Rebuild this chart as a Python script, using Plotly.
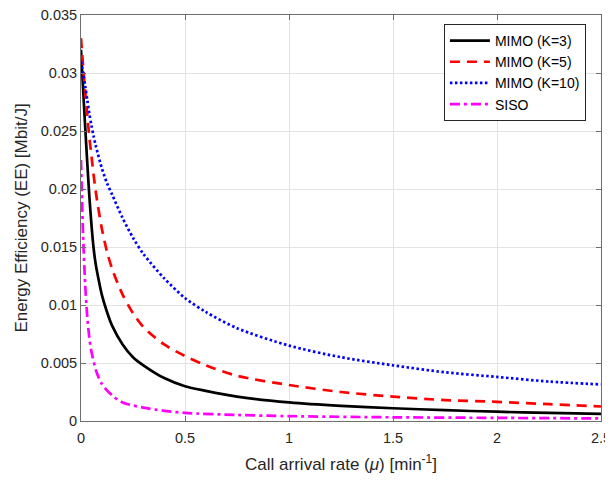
import plotly.graph_objects as go

# Readings from the reference chart
mu_mimo = [0, 0.01, 0.02, 0.03, 0.04, 0.05, 0.06, 0.07, 0.08, 0.1, 0.125, 0.15, 0.2, 0.25,
           0.3, 0.4, 0.5, 0.6, 0.75, 1.0, 1.25, 1.5, 1.75, 2.0, 2.25, 2.5]
ee_k3 = [0.0320, 0.0287, 0.0254, 0.0223, 0.0194, 0.0170, 0.0150, 0.0136, 0.0126, 0.0109,
         0.0094, 0.0082, 0.0066, 0.0055, 0.0048, 0.0037, 0.0030, 0.0026, 0.0021, 0.0016,
         0.0013, 0.0011, 0.00093, 0.0008, 0.0007, 0.00062]
ee_k5 = [0.0330, 0.0306, 0.0284, 0.0264, 0.0245, 0.0229, 0.0213, 0.0199, 0.0187, 0.0166,
         0.0146, 0.0131, 0.0109, 0.0093, 0.0081, 0.0066, 0.0056, 0.0048, 0.0039, 0.0031,
         0.0025, 0.0021, 0.0018, 0.00165, 0.00145, 0.00125]
ee_k10 = [0.0310, 0.0300, 0.0289, 0.0277, 0.0265, 0.0255, 0.0246, 0.0238, 0.0231, 0.0218,
          0.0205, 0.0195, 0.0175, 0.0158, 0.0144, 0.0123, 0.0106, 0.0094, 0.0080, 0.0065,
          0.0055, 0.0048, 0.0042, 0.0038, 0.0034, 0.00315]
mu_siso = [0, 0.005, 0.01, 0.02, 0.03, 0.04, 0.05, 0.075, 0.1, 0.15, 0.2, 0.3, 0.4, 0.5,
           0.75, 1.0, 1.5, 2.0, 2.5]
ee_siso = [0.0225, 0.0190, 0.0160, 0.0118, 0.0090, 0.0072, 0.0060, 0.0042, 0.0032, 0.0022,
           0.0016, 0.00115, 0.00088, 0.0007, 0.00052, 0.00042, 0.00032, 0.00027, 0.00022]

x_ticks = [0, 0.5, 1, 1.5, 2, 2.5]
x_tick_text = ["0", "0.5", "1", "1.5", "2", "2.5"]
y_ticks = [0, 0.005, 0.01, 0.015, 0.02, 0.025, 0.03, 0.035]
y_tick_text = ["0", "0.005", "0.01", "0.015", "0.02", "0.025", "0.03", "0.035"]

FONT = "Liberation Sans, Arial, sans-serif"

fig = go.Figure()
fig.add_trace(go.Scatter(x=mu_mimo, y=ee_k3, mode="lines", name="MIMO (K=3)",
                         line=dict(color="black", width=2.7, shape="spline", smoothing=0.8)))
fig.add_trace(go.Scatter(x=mu_mimo, y=ee_k5, mode="lines", name="MIMO (K=5)",
                         line=dict(color="#ff0000", width=2.7, dash="10px,7px", shape="spline", smoothing=0.8)))
fig.add_trace(go.Scatter(x=mu_mimo, y=ee_k10, mode="lines", name="MIMO (K=10)",
                         line=dict(color="#0000ff", width=2.7, dash="2.5px,2.5px", shape="spline", smoothing=0.8)))
fig.add_trace(go.Scatter(x=mu_siso, y=ee_siso, mode="lines", name="SISO",
                         line=dict(color="#ff00ff", width=2.7, dash="10px,4px,3px,4px", shape="spline", smoothing=0.8)))

axis_common = dict(
    showgrid=True, gridcolor="#e3e3e3", gridwidth=1,
    showline=True, linecolor="#6e6e6e", linewidth=1, mirror="ticks",
    ticks="inside", ticklen=5, tickcolor="#6e6e6e",
    zeroline=False, automargin=False, ticklabeloverflow="allow",
    tickfont=dict(family=FONT, size=14.5, color="#262626"),
)

fig.update_xaxes(range=[0, 2.5], tickvals=x_ticks, ticktext=x_tick_text,
                 ticklabelstandoff=4,
                 title=dict(text="Call arrival rate (<i>μ</i>) [min<sup>-1</sup>]",
                            font=dict(family=FONT, size=17, color="#262626"),
                            standoff=12),
                 **axis_common)
fig.update_yaxes(range=[0, 0.035], tickvals=y_ticks, ticktext=y_tick_text,
                 title=dict(text="Energy Efficiency (EE) [Mbit/J]",
                            font=dict(family=FONT, size=17, color="#262626"),
                            standoff=8),
                 **axis_common)

# the page body adds an 8px offset, so the figure is sized to fit the window
fig.update_layout(
    width=605, height=472,
    margin=dict(l=73, r=12, t=7, b=59),
    paper_bgcolor="white", plot_bgcolor="white",
    showlegend=True,
    legend=dict(x=0.971, y=0.978, xanchor="right", yanchor="top",
                bgcolor="white", bordercolor="#262626", borderwidth=1,
                font=dict(family=FONT, size=14, color="black"),
                tracegroupgap=0, itemwidth=40),
)

fig.write_html("out.html")
